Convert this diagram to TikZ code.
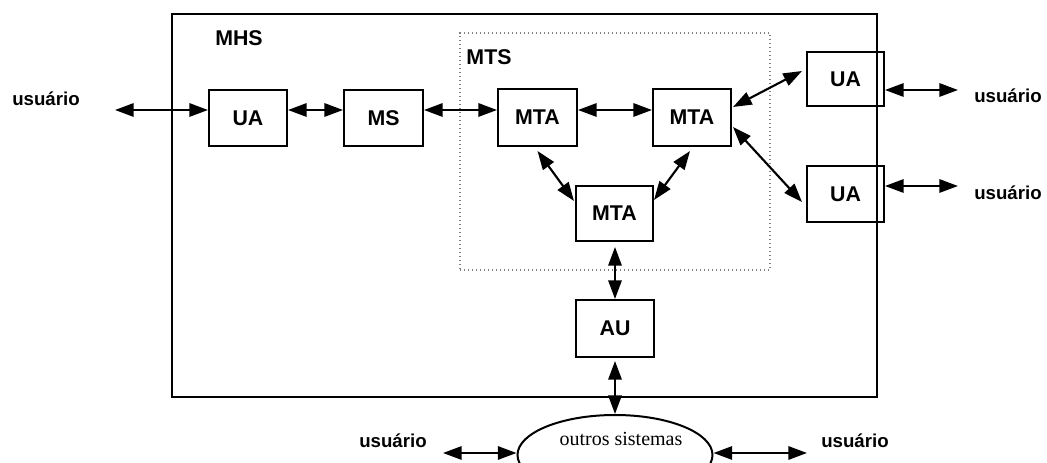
\documentclass[tikz,border=0pt]{standalone}
\usepackage{fontspec}
\setmainfont{Liberation Sans}
\newfontfamily\serifo{Liberation Serif}
\usetikzlibrary{arrows.meta,calc,shapes.geometric}
\begin{document}
\begin{tikzpicture}[x=0.75pt,y=-0.75pt,
  box/.style={draw,line width=1.5pt,inner sep=0pt,font=\fontsize{16}{18}\selectfont\bfseries},
  lbl/.style={inner sep=0pt,font=\fontsize{16}{18}\selectfont\bfseries},
  usr/.style={inner sep=0pt,font=\fontsize{14}{16}\selectfont\bfseries},
  arr/.style={line width=1.6pt,{Triangle[length=14pt,width=10pt]}-{Triangle[length=14pt,width=10pt]}},
  frame/.style={draw,line width=1.4pt},
  mtsbox/.style={draw,gray,dotted,line width=1pt}]
\useasboundingbox (0,0) rectangle (1047,463);
% containers
\node[frame,minimum width=705*0.75pt,minimum height=383*0.75pt,inner sep=0pt] (mhs) at (524.5,205.5) {};
\node[mtsbox,minimum width=310*0.75pt,minimum height=237*0.75pt,inner sep=0pt] (mts) at (615,151.5) {};
\node[lbl] (mhslbl) at (239,38) {MHS};
\node[lbl] (mtslbl) at (489,57) {MTS};
% boxes
\node[box,minimum width=78*0.75pt,minimum height=56*0.75pt] (uaL) at (248,118) {UA};
\node[box,minimum width=79*0.75pt,minimum height=56*0.75pt] (ms) at (383.5,118) {MS};
\node[box,minimum width=79*0.75pt,minimum height=57*0.75pt] (mta1) at (537.5,117.5) {MTA};
\node[box,minimum width=78*0.75pt,minimum height=57*0.75pt] (mta2) at (692,117.5) {MTA};
\node[box,minimum width=77*0.75pt,minimum height=55*0.75pt] (mta3) at (614.5,213.5) {MTA};
\node[box,minimum width=77*0.75pt,minimum height=54*0.75pt] (uaT) at (845.5,79) {UA};
\node[box,minimum width=77*0.75pt,minimum height=56*0.75pt] (uaB) at (845.5,194) {UA};
\node[box,minimum width=78*0.75pt,minimum height=57*0.75pt] (au) at (615,328.5) {AU};
\node[draw,ellipse,line width=1.5pt,minimum width=195*0.75pt,minimum height=80*0.75pt,inner sep=0pt] (os) at (615,455) {};
\node[inner sep=0pt,font=\serifo\fontsize{15}{18}\selectfont] (ostxt) at (621,439) {outros sistemas};
% user labels
\node[usr] (u1) at (46,99) {usuário};
\node[usr] (u2) at (1008,96) {usuário};
\node[usr] (u3) at (1008,193) {usuário};
\node[usr] (u4) at (393,441) {usuário};
\node[usr] (u5) at (855,441) {usuário};
% free ends
\coordinate (r1) at (0,110);
\coordinate (pL) at (115,110);
\coordinate (pT) at (958,90);
\coordinate (pB) at (958,186);
\coordinate (pBL) at (443,453);
\coordinate (pBR) at (807,453);
% connectors
\draw[arr] (pL) -- (uaL.west |- r1);
\draw[arr] (uaL.east |- r1) -- (ms.west |- r1);
\draw[arr] (ms.east |- r1) -- (mta1.west |- r1);
\draw[arr] (mta1.east |- r1) -- (mta2.west |- r1);
\draw[arr] ($(mta1.south)+(0,4)$) -- ($(mta3.north west)+(-1,16)$);
\draw[arr] ($(mta2.south)+(-2,4)$) -- ($(mta3.north east)+(0,15)$);
\draw[arr] ($(mta2.north east)+(1,19)$) -- ($(uaT.north west)+(-4,20)$);
\draw[arr] ($(mta2.north east)+(1,39)$) -- ($(uaB.north west)+(-4,37)$);
\draw[arr] (uaT.east |- pT) -- (pT);
\draw[arr] (uaB.east |- pB) -- (pB);
\draw[arr] ($(mta3.south)+(0.5,5)$) -- (au.north);
\draw[arr] ($(au.south)+(0,3)$) -- (os.north);
\draw[arr] (pBL) -- (os.west |- pBL);
\draw[arr] (os.east |- pBR) -- (pBR);
\end{tikzpicture}
\end{document}
